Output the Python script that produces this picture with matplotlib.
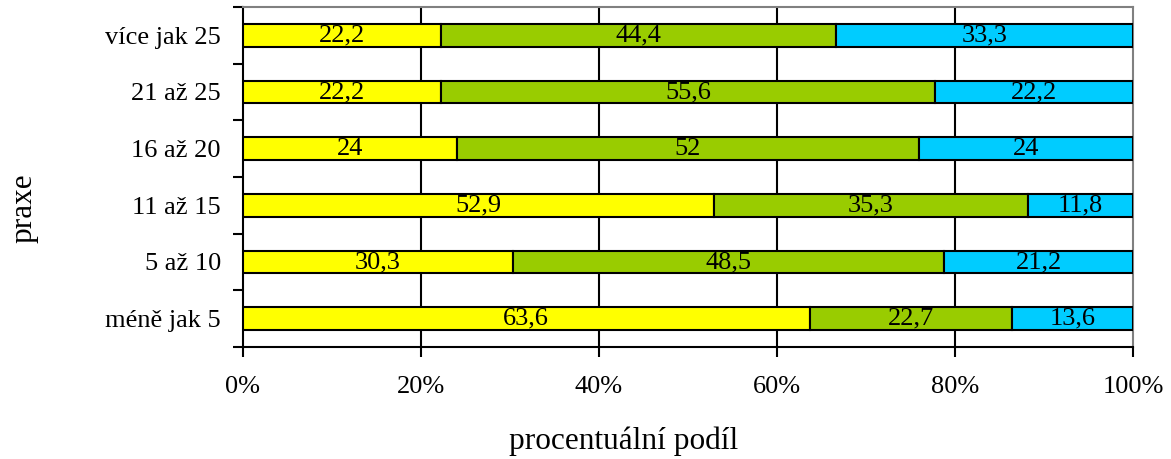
import matplotlib
matplotlib.use("Agg")
import matplotlib.pyplot as plt
import numpy as np
from matplotlib.ticker import FixedLocator, NullFormatter

plt.rcParams['font.family'] = ['Liberation Serif', 'DejaVu Serif']

categories = ["méně jak 5", "5 až 10", "11 až 15", "16 až 20", "21 až 25", "více jak 25"]
yellow_vals = [63.6, 30.3, 52.9, 24, 22.2, 22.2]
green_vals = [22.7, 48.5, 35.3, 52, 55.6, 44.4]
blue_vals = [13.6, 21.2, 11.8, 24, 22.2, 33.3]
x_ticks = [0, 20, 40, 60, 80, 100]
x_ticklabels = ["0%", "20%", "40%", "60%", "80%", "100%"]
series_colors = ["#FFFF00", "#99CC00", "#00CCFF"]

W, H = 1171, 459
fig = plt.figure(figsize=(W/100, H/100), dpi=100)
ax = fig.add_axes([243/W, 1-347/H, (1133-243)/W, (347-7)/H])

series = [np.array(yellow_vals, float), np.array(green_vals, float), np.array(blue_vals, float)]
totals = sum(series)
y = np.arange(len(categories))
left = np.zeros(len(categories))

def fmt(v):
    s = f"{v:.1f}".replace(".", ",")
    if s.endswith(",0"):
        s = s[:-2]
    return s

for vals, col in zip(series, series_colors):
    pct = vals / totals * 100
    ax.barh(y, pct, left=left, height=0.4, color=col, edgecolor="black", linewidth=1.5, zorder=3)
    for yi, l, p, v in zip(y, left, pct, vals):
        ax.text(l + p/2, yi, fmt(v), ha="center", va="center", fontsize=19, zorder=4)
    left = left + pct

ax.set_xlim(0, 100)
ax.set_ylim(-0.5, len(categories) - 0.5)
ax.set_xticks(x_ticks)
ax.set_xticklabels(x_ticklabels, fontsize=19)
ax.set_yticks(y)
ax.set_yticklabels(categories, fontsize=19)
ax.yaxis.set_minor_locator(FixedLocator(np.arange(-0.5, len(categories), 1.0)))
ax.yaxis.set_minor_formatter(NullFormatter())
ax.tick_params(axis='y', which='major', length=0, pad=16)
ax.tick_params(axis='y', which='minor', length=7, width=1.5, direction='out')
ax.tick_params(axis='x', which='major', length=7, width=1.5, direction='out', pad=14)

for x in x_ticks[1:-1]:
    ax.axvline(x, color="black", linewidth=1.5, zorder=1)

ax.spines['left'].set_linewidth(1.5)
ax.spines['bottom'].set_linewidth(1.5)
ax.spines['top'].set_color("#808080")
ax.spines['right'].set_color("#808080")
ax.spines['top'].set_linewidth(1.5)
ax.spines['right'].set_linewidth(1.5)

fig.text(624/W, 1-441/H, "procentuální podíl", fontsize=22.5, ha="center", va="center")
fig.text(24/W, 1-208/H, "praxe", fontsize=22.5, ha="center", va="center", rotation=90)

fig.savefig("out.png", dpi=100)
